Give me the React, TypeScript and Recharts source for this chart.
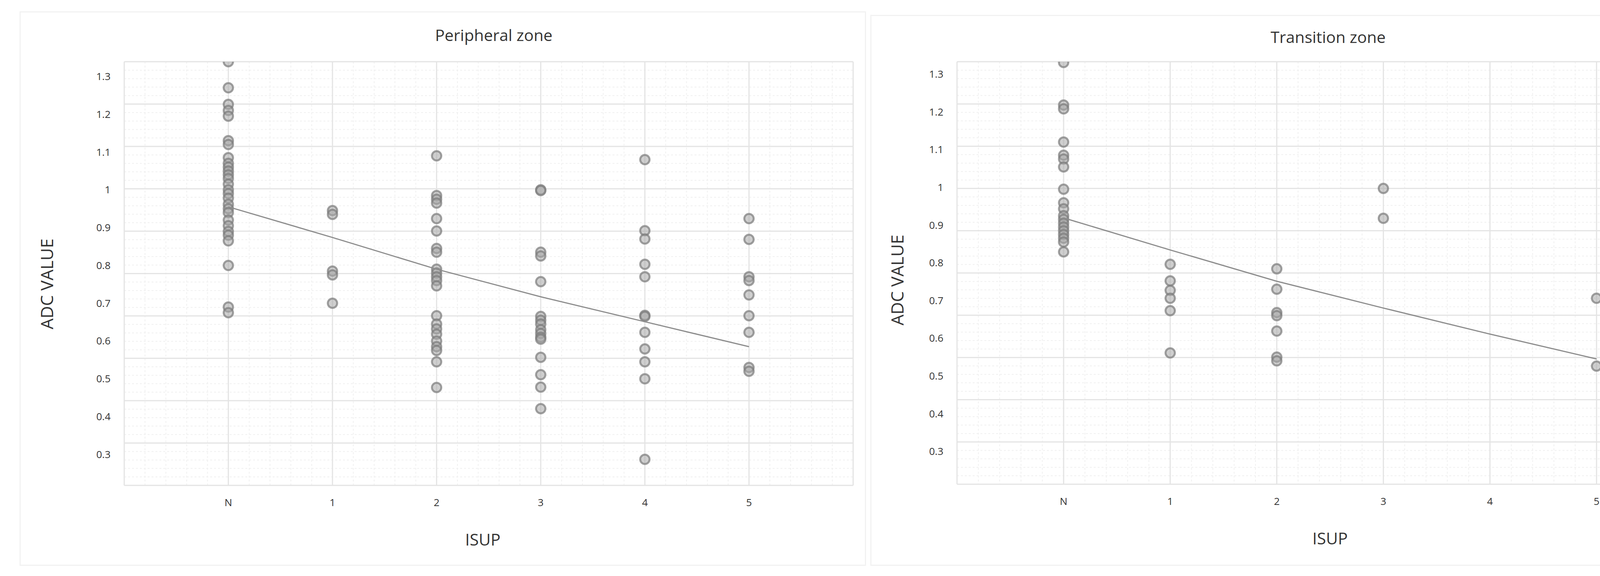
import React from 'react';
import { ScatterChart, Scatter, XAxis, YAxis, CartesianGrid } from 'recharts';

const FONT = '"Open Sans", "Noto Sans", sans-serif';

const categories = ['N', '1', '2', '3', '4', '5'];
const yTicks = [0.3, 0.4, 0.5, 0.6, 0.7, 0.8, 0.9, 1, 1.1, 1.2, 1.3];

// Peripheral zone ADC values per ISUP group
const pzN = [1.339, 1.27, 1.226, 1.21, 1.195, 1.13, 1.12, 1.085, 1.07, 1.06, 1.05, 1.04, 1.03, 1.015, 1.0, 0.99, 0.978, 0.962, 0.95, 0.94, 0.92, 0.905, 0.89, 0.88, 0.865, 0.8, 0.69, 0.675];
const pz1 = [0.945, 0.935, 0.785, 0.775, 0.7];
const pz2 = [1.09, 0.985, 0.975, 0.965, 0.924, 0.891, 0.845, 0.835, 0.79, 0.78, 0.77, 0.76, 0.746, 0.667, 0.645, 0.632, 0.618, 0.6, 0.585, 0.575, 0.545, 0.477];
const pz3 = [1.0, 0.998, 0.835, 0.825, 0.757, 0.665, 0.655, 0.645, 0.63, 0.62, 0.61, 0.605, 0.557, 0.511, 0.478, 0.421];
const pz4 = [1.08, 0.892, 0.87, 0.803, 0.77, 0.668, 0.665, 0.623, 0.579, 0.545, 0.5, 0.287];
const pz5 = [0.924, 0.869, 0.77, 0.76, 0.722, 0.667, 0.623, 0.53, 0.52];
const pzTrend = [0.955, 0.874, 0.79, 0.717, 0.651, 0.585];

// Transition zone ADC values per ISUP group
const tzN = [1.331, 1.218, 1.208, 1.12, 1.085, 1.075, 1.054, 0.995, 0.959, 0.943, 0.925, 0.915, 0.905, 0.895, 0.885, 0.875, 0.865, 0.855, 0.829];
const tz1 = [0.796, 0.752, 0.727, 0.706, 0.673, 0.561];
const tz2 = [0.784, 0.73, 0.668, 0.66, 0.619, 0.55, 0.54];
const tz3 = [0.997, 0.918];
const tz4: number[] = [];
const tz5 = [0.706, 0.526];
const tzTrend = [0.919, 0.834, 0.751, 0.68, 0.611, 0.545];

const toPoints = (groups: number[][]) =>
  groups.flatMap((vals, i) => vals.map((y) => ({ x: i, y })));
const trendPoints = (vals: number[]) => vals.map((y, i) => ({ x: i, y }));

// plot area split: 7 columns (x -1..6), 10 rows; minor grid 5 per cell
const rows = (n: number) => (args: any) => {
  const o = args.offset;
  return Array.from({ length: n + 1 }, (_, i) => o.top + (i * o.height) / n);
};
const cols = (n: number) => (args: any) => {
  const o = args.offset;
  return Array.from({ length: n + 1 }, (_, i) => o.left + (i * o.width) / n);
};

const Dot = (props: any) => {
  const { cx, cy } = props;
  if (cx == null || cy == null) return <g />;
  return (
    <circle cx={cx} cy={cy} r={12} fill="#a8a8a8" fillOpacity={0.55}
      stroke="#7a7a7a" strokeOpacity={0.7} strokeWidth={5} />
  );
};

interface PanelProps {
  points: { x: number; y: number }[];
  trend: { x: number; y: number }[];
  yDomain: [number, number];
  width: number;
  marginLeft: number;
  marginRight: number;
  marginBottom: number;
}

const Panel: React.FC<PanelProps> = ({ points, trend, yDomain, width, marginLeft, marginRight, marginBottom }) => {
  const tick = { fontSize: 26, fill: '#333', fontFamily: FONT };
  return (
    <ScatterChart width={width} height={1475}
      margin={{ top: 158, right: marginRight, bottom: marginBottom, left: marginLeft }}>
      <CartesianGrid stroke="#f0f0f0" strokeDasharray="5 5" strokeWidth={2}
        horizontalCoordinatesGenerator={rows(50)} verticalCoordinatesGenerator={cols(35)} />
      <CartesianGrid stroke="#e4e4e4" strokeWidth={3}
        horizontalCoordinatesGenerator={rows(10)} verticalCoordinatesGenerator={cols(7)} />
      <XAxis type="number" dataKey="x" domain={[-1, 6]} ticks={[0, 1, 2, 3, 4, 5]} interval={0}
        tickFormatter={(v: number) => categories[v]} axisLine={false} tickLine={false}
        tickSize={10} tickMargin={25} tick={tick} allowDataOverflow />
      <YAxis type="number" dataKey="y" domain={yDomain} ticks={yTicks} interval={0} width={120}
        axisLine={false} tickLine={false} tickSize={10} tickMargin={25} tick={tick} allowDataOverflow />
      <Scatter data={points} shape={Dot} isAnimationActive={false} />
      <Scatter data={trend} line={{ stroke: '#8c8c8c', strokeWidth: 3 }} lineType="joint"
        shape={() => <g />} isAnimationActive={false} />
    </ScatterChart>
  );
};

const textStyle: React.CSSProperties = {
  position: 'absolute', fontFamily: FONT, color: '#333', whiteSpace: 'nowrap',
  transform: 'translate(-50%, -50%)', lineHeight: 1,
};

const App: React.FC = () => {
  return (
    <div style={{ position: 'absolute', left: 0, top: 0, width: 4430, height: 1475, background: '#fff', overflow: 'hidden' }}>
      <div style={{ position: 'absolute', left: 50, top: 29, width: 2167, height: 1420, border: '3px solid #f2f2f2', boxSizing: 'border-box' }} />
      <div style={{ position: 'absolute', left: 2228, top: 38, width: 2174, height: 1411, border: '3px solid #f2f2f2', boxSizing: 'border-box' }} />

      <div style={{ position: 'absolute', left: 0, top: 0 }}>
        <Panel points={toPoints([pzN, pz1, pz2, pz3, pz4, pz5])}
          trend={trendPoints(pzTrend)} yDomain={[0.218, 1.339]} width={2210}
          marginLeft={198} marginRight={26} marginBottom={202} />
      </div>
      <div style={{ position: 'absolute', left: 2210, top: 0 }}>
        <Panel points={toPoints([tzN, tz1, tz2, tz3, tz4, tz5])}
          trend={trendPoints(tzTrend)} yDomain={[0.213, 1.333]} width={2220}
          marginLeft={120} marginRight={70} marginBottom={205} />
      </div>

      <div style={{ ...textStyle, left: 1264, top: 89, fontSize: 41 }}>Peripheral zone</div>
      <div style={{ ...textStyle, left: 3400, top: 94, fontSize: 41 }}>Transition zone</div>
      <div style={{ ...textStyle, left: 1236, top: 1381, fontSize: 42 }}>ISUP</div>
      <div style={{ ...textStyle, left: 3405, top: 1378, fontSize: 42 }}>ISUP</div>
      <div style={{ ...textStyle, left: 119, top: 727, fontSize: 44, transform: 'translate(-50%, -50%) rotate(-90deg)' }}>ADC VALUE</div>
      <div style={{ ...textStyle, left: 2296, top: 717, fontSize: 44, transform: 'translate(-50%, -50%) rotate(-90deg)' }}>ADC VALUE</div>
    </div>
  );
};

export default App;
